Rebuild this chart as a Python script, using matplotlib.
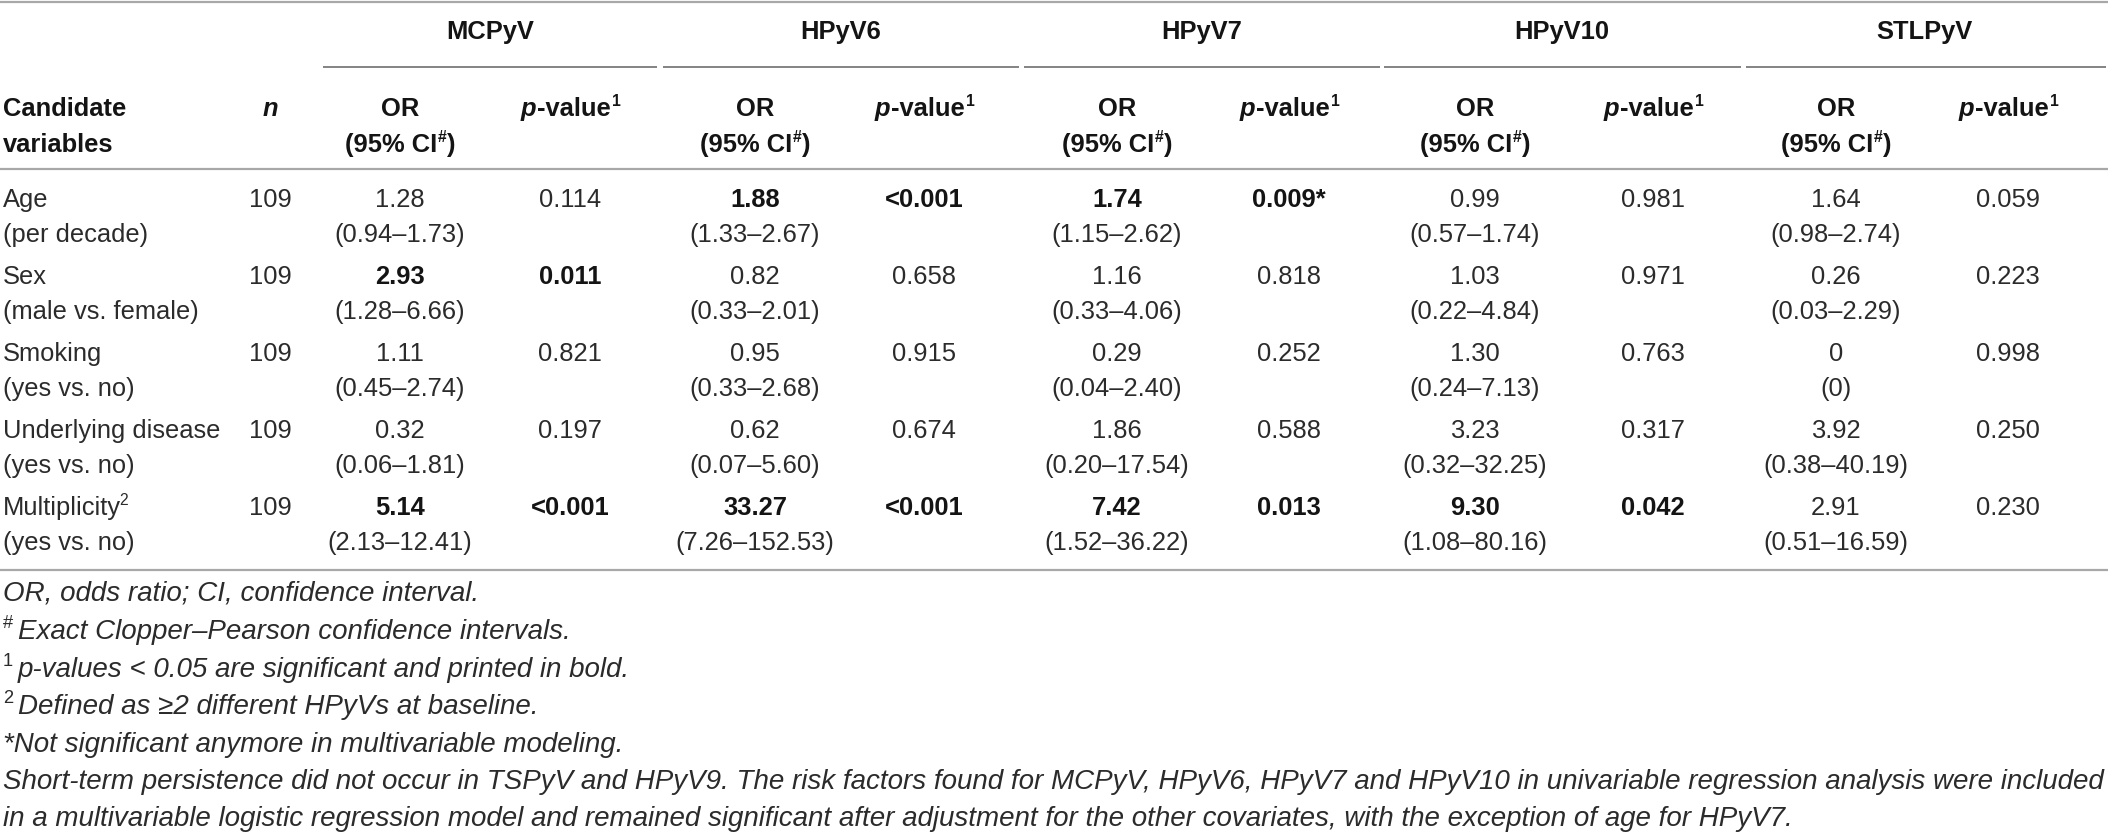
import matplotlib
matplotlib.use("Agg")
import matplotlib.pyplot as plt

# ---------------- data ----------------
viruses = ["MCPyV", "HPyV6", "HPyV7", "HPyV10", "STLPyV"]
variables = ["Age", "Sex", "Smoking", "Underlying disease", "Multiplicity"]
variable_notes = ["(per decade)", "(male vs. female)", "(yes vs. no)", "(yes vs. no)", "(yes vs. no)"]
n_values = [109, 109, 109, 109, 109]

or_mcpyv = ["1.28", "2.93", "1.11", "0.32", "5.14"]
ci_mcpyv = ["0.94–1.73", "1.28–6.66", "0.45–2.74", "0.06–1.81", "2.13–12.41"]
p_mcpyv = ["0.114", "0.011", "0.821", "0.197", "<0.001"]

or_hpyv6 = ["1.88", "0.82", "0.95", "0.62", "33.27"]
ci_hpyv6 = ["1.33–2.67", "0.33–2.01", "0.33–2.68", "0.07–5.60", "7.26–152.53"]
p_hpyv6 = ["<0.001", "0.658", "0.915", "0.674", "<0.001"]

or_hpyv7 = ["1.74", "1.16", "0.29", "1.86", "7.42"]
ci_hpyv7 = ["1.15–2.62", "0.33–4.06", "0.04–2.40", "0.20–17.54", "1.52–36.22"]
p_hpyv7 = ["0.009*", "0.818", "0.252", "0.588", "0.013"]

or_hpyv10 = ["0.99", "1.03", "1.30", "3.23", "9.30"]
ci_hpyv10 = ["0.57–1.74", "0.22–4.84", "0.24–7.13", "0.32–32.25", "1.08–80.16"]
p_hpyv10 = ["0.981", "0.971", "0.763", "0.317", "0.042"]

or_stlpyv = ["1.64", "0.26", "0", "3.92", "2.91"]
ci_stlpyv = ["0.98–2.74", "0.03–2.29", "0", "0.38–40.19", "0.51–16.59"]
p_stlpyv = ["0.059", "0.223", "0.998", "0.250", "0.230"]

footnote_1 = "OR, odds ratio; CI, confidence interval."
footnote_2 = "Exact Clopper–Pearson confidence intervals."
footnote_3 = "p-values < 0.05 are significant and printed in bold."
footnote_4 = "Defined as ≥2 different HPyVs at baseline."
footnote_5 = "*Not significant anymore in multivariable modeling."
footnote_6a = ("Short-term persistence did not occur in TSPyV and HPyV9. The risk factors found for "
               "MCPyV, HPyV6, HPyV7 and HPyV10 in univariable regression analysis were included")
footnote_6b = ("in a multivariable logistic regression model and remained significant after adjustment "
               "for the other covariates, with the exception of age for HPyV7.")

or_all = [or_mcpyv, or_hpyv6, or_hpyv7, or_hpyv10, or_stlpyv]
ci_all = [ci_mcpyv, ci_hpyv6, ci_hpyv7, ci_hpyv10, ci_stlpyv]
p_all = [p_mcpyv, p_hpyv6, p_hpyv7, p_hpyv10, p_stlpyv]

# ---------------- layout / style ----------------
W, H, DPI = 2108, 833, 100
FONT = ["Liberation Sans", "DejaVu Sans"]
FS_PX = 25.5
FS = FS_PX * 72 / DPI
FS_FOOT = 27.7 * 72 / DPI
TXT = "#2b2b2b"
TXT_BOLD = "#141414"
RULE = "#a8a8a8"
ULINE = "#7a7a7a"
BASE_OFF = 9.0
SUP_SCALE = 0.62
SUP_RISE = 10.0

x_label = 3
x_n = 270
x_or = [400, 755, 1117, 1475, 1836]
x_p = [570, 924, 1289, 1653, 2008]
x_virus = [490, 841, 1202, 1562, 1924]
ul_spans = [(323, 657), (663, 1019), (1024, 1380), (1384, 1741), (1746, 2106)]

y_virus = 30
y_ul = 67
y_head1, y_head2 = 107, 143
y_sep = 169
row_y = [198, 275, 352, 429, 506]
line2_dy = 35
y_bottom = 570
foot_y = [592, 630, 668, 705, 743, 780, 817]

fig = plt.figure(figsize=(W / DPI, H / DPI), dpi=DPI)
fig.patch.set_facecolor("white")
ax = fig.add_axes([0, 0, 1, 1])
ax.set_xlim(0, W)
ax.set_ylim(H, 0)
ax.axis("off")
renderer = fig.canvas.get_renderer()


def runs_text(x, yc, runs, ha="center", base=None):
    """Draw a sequence of styled runs; yc = visual center of the line (px from top)."""
    base = FS if base is None else base
    arts, widths = [], []
    for text, opts in runs:
        sup = opts.get("sup", False)
        size = base * opts.get("scale", SUP_SCALE) if sup else base
        weight = opts.get("weight", "normal")
        t = ax.text(0, 0, text, fontsize=size, fontweight=weight,
                    fontstyle=opts.get("style", "normal"), family=FONT,
                    color=TXT_BOLD if weight == "bold" else TXT,
                    va="baseline", ha="left")
        w = t.get_window_extent(renderer).width
        arts.append((t, sup, opts.get("shift", 0)))
        widths.append(w + opts.get("pad", 0))
    total = sum(widths)
    x0 = x - total / 2 if ha == "center" else x
    yb = yc + BASE_OFF
    for (t, sup, shift), w in zip(arts, widths):
        t.set_position((x0 + shift, yb - (SUP_RISE * base / FS if sup else 0)))
        x0 += w


def is_sig(p):
    return float(p.replace("<", "").replace("*", "")) < 0.05


# rules
ax.plot([0, W], [1.5, 1.5], color=RULE, lw=1.6, solid_capstyle="butt")
for a, b in ul_spans:
    ax.plot([a, b], [y_ul, y_ul], color=ULINE, lw=1.3, solid_capstyle="butt")
ax.plot([0, W], [y_sep, y_sep], color=RULE, lw=1.6, solid_capstyle="butt")
ax.plot([0, W], [y_bottom, y_bottom], color=RULE, lw=1.6, solid_capstyle="butt")

B = {"weight": "bold"}
# virus headers
for v, x in zip(viruses, x_virus):
    runs_text(x, y_virus, [(v, B)])

# column headers
runs_text(x_label, y_head1, [("Candidate", B)], ha="left")
runs_text(x_label, y_head2, [("variables", B)], ha="left")
runs_text(x_n, y_head1, [("n", {"weight": "bold", "style": "italic"})])
for xo, xp in zip(x_or, x_p):
    runs_text(xo, y_head1, [("OR", B)])
    runs_text(xo, y_head2, [("(95% CI", B), ("#", {"weight": "bold", "sup": True, "pad": 1, "shift": 1}), (")", B)])
    runs_text(xp, y_head1, [("p", {"weight": "bold", "style": "italic", "pad": 1}), ("-value", B),
                            ("1", {"weight": "bold", "sup": True, "shift": 1})])

# body
for i, (var, note, n) in enumerate(zip(variables, variable_notes, n_values)):
    y1 = row_y[i]
    y2 = y1 + line2_dy
    if var == "Multiplicity":
        runs_text(x_label, y1, [(var, {"pad": -2}), ("2", {"sup": True})], ha="left")
    else:
        runs_text(x_label, y1, [(var, {})], ha="left")
    runs_text(x_label, y2, [(note, {})], ha="left")
    runs_text(x_n, y1, [(str(n), {})])
    for j in range(len(viruses)):
        pv = p_all[j][i]
        st = B if is_sig(pv) else {}
        runs_text(x_or[j], y1, [(or_all[j][i], st)])
        runs_text(x_or[j], y2, [("(" + ci_all[j][i] + ")", {})])
        runs_text(x_p[j], y1, [(pv, st)])

# footnotes
I = {"style": "italic"}
S = {"sup": True, "pad": 5, "scale": 0.66}
runs_text(x_label, foot_y[0], [(footnote_1, I)], ha="left", base=FS_FOOT)
runs_text(x_label, foot_y[1], [("#", S), (footnote_2, I)], ha="left", base=FS_FOOT)
runs_text(x_label, foot_y[2], [("1", S), (footnote_3, I)], ha="left", base=FS_FOOT)
runs_text(x_label, foot_y[3], [("2", S), (footnote_4, I)], ha="left", base=FS_FOOT)
runs_text(x_label, foot_y[4], [(footnote_5, I)], ha="left", base=FS_FOOT)
runs_text(x_label, foot_y[5], [(footnote_6a, I)], ha="left", base=FS_FOOT)
runs_text(x_label, foot_y[6], [(footnote_6b, I)], ha="left", base=FS_FOOT)

fig.savefig("out.png", dpi=DPI, facecolor="white")
